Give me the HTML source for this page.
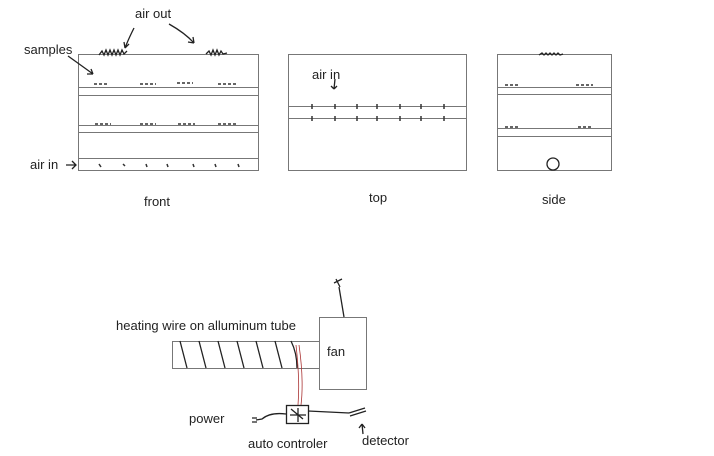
<!DOCTYPE html>
<html><head><style>
html,body{margin:0;padding:0;background:#fff;}
svg{display:block;}
text{font-family:"Liberation Sans",sans-serif;fill:#222;}
</style></head><body>
<svg width="714" height="456" viewBox="0 0 714 456" xmlns="http://www.w3.org/2000/svg">
<g stroke="#777" stroke-width="1" fill="none">
<rect x="78.5" y="54.5" width="180" height="116"/>
<line x1="78" y1="87.5" x2="258" y2="87.5"/><line x1="78" y1="95.5" x2="258" y2="95.5"/>
<line x1="78" y1="125.5" x2="258" y2="125.5"/><line x1="78" y1="132.5" x2="258" y2="132.5"/>
<line x1="78" y1="158.5" x2="258" y2="158.5"/>
<rect x="288.5" y="54.5" width="178" height="116"/>
<line x1="288" y1="106.5" x2="466" y2="106.5"/><line x1="288" y1="118.5" x2="466" y2="118.5"/>
<rect x="497.5" y="54.5" width="114" height="116"/>
<line x1="497" y1="87.5" x2="611" y2="87.5"/><line x1="497" y1="94.5" x2="611" y2="94.5"/>
<line x1="497" y1="128.5" x2="611" y2="128.5"/><line x1="497" y1="136.5" x2="611" y2="136.5"/>
<rect x="172.5" y="341.5" width="147" height="27"/>
<rect x="319.5" y="317.5" width="47" height="72"/>
</g>
<g stroke="#333" stroke-width="1.5" stroke-dasharray="3,2">
<line x1="94" y1="84" x2="108" y2="84"/><line x1="140" y1="84" x2="156" y2="84"/><line x1="177" y1="83" x2="193" y2="83"/><line x1="218" y1="84" x2="236" y2="84"/>
<line x1="95" y1="124" x2="111" y2="124"/><line x1="140" y1="124" x2="156" y2="124"/><line x1="178" y1="124" x2="195" y2="124"/><line x1="218" y1="124" x2="237" y2="124"/>
<line x1="505" y1="85" x2="520" y2="85"/><line x1="576" y1="85" x2="593" y2="85"/>
<line x1="505" y1="127" x2="520" y2="127"/><line x1="578" y1="127" x2="593" y2="127"/>
</g>
<g stroke="#222" stroke-width="1.3" fill="none">
<path d="M99 55 l3-4 2 4 2-5 2 5 2-5 2 5 2-5 2 5 2-5 2 5 2-5 2 4 3-3"/>
<path d="M206 54 l3-3 2 4 2-5 2 5 2-5 2 5 2-4 2 3 4-1"/>
<path d="M539 55 l3-2 2 2 2-2 2 2 2-2 2 2 2-2 2 2 2-2 2 2 3-1"/>
<path d="M134 28 Q128 40 125 48 M125 48 l-1-6 M125 48 l4-4"/>
<path d="M169 24 Q185 33 194 43 M194 43 l-6-1 M194 43 l-1-6"/>
<path d="M68 56 Q82 66 93 74 M93 74 l-6 0 M93 74 l-2-5"/>
<path d="M66 165 h10 M72 161 l4 4 -4 4"/>
<path d="M335 79 l-1 10 M334 89 l-3-3 M334 89 l3-3"/>
<circle cx="553" cy="164" r="6"/>
<path d="M180 341 l7 27 M199 341 l7 27 M218 341 l7 27 M237 341 l7 27 M256 341 l7 27 M275 341 l7 27 M291 341 q6 12 6 27"/>
<path d="M339 287 L344 317 M334 283 l8 -4 M336 279 l4 8"/>
<rect x="286.5" y="405.5" width="22" height="18"/>
<path d="M291 409 l12 10 M298 408 v14 M290 415 h16"/>
<path d="M286 414 Q270 412 262 419 L256 420 M252 418 h5 M252 422 h5"/>
<path d="M308 411 Q330 412 349 413"/>
<path d="M349 413 l16-5 M350 416 l16-5"/>
<path d="M363 434 l-1-10 M362 424 l-3 4 M362 424 l3 4"/>
</g>
<g stroke="#a33" stroke-width="0.8" fill="none"><path d="M296 345 Q300 380 298 405 M299 345 Q304 380 301 405"/></g>
<g stroke="#333" stroke-width="1.5">
<line x1="99" y1="164" x2="101" y2="167"/><line x1="123" y1="164" x2="125" y2="166"/><line x1="146" y1="164" x2="147" y2="167"/><line x1="167" y1="164" x2="168" y2="167"/><line x1="193" y1="164" x2="194" y2="167"/><line x1="215" y1="164" x2="216" y2="167"/><line x1="238" y1="164" x2="239" y2="167"/>
<line x1="312" y1="104" x2="312" y2="109"/><line x1="335" y1="104" x2="335" y2="109"/><line x1="357" y1="104" x2="357" y2="109"/><line x1="377" y1="104" x2="377" y2="109"/><line x1="400" y1="104" x2="400" y2="109"/><line x1="421" y1="104" x2="421" y2="109"/><line x1="444" y1="104" x2="444" y2="109"/>
<line x1="312" y1="116" x2="312" y2="121"/><line x1="335" y1="116" x2="335" y2="121"/><line x1="357" y1="116" x2="357" y2="121"/><line x1="377" y1="116" x2="377" y2="121"/><line x1="400" y1="116" x2="400" y2="121"/><line x1="421" y1="116" x2="421" y2="121"/><line x1="444" y1="116" x2="444" y2="121"/>
</g>
<g font-size="13">
<text x="135" y="18">air out</text>
<text x="24" y="54">samples</text>
<text x="30" y="169">air in</text>
<text x="312" y="79">air in</text>
<text x="144" y="206">front</text>
<text x="369" y="202">top</text>
<text x="542" y="204">side</text>
<text x="116" y="330">heating wire on alluminum tube</text>
<text x="327" y="356">fan</text>
<text x="189" y="423">power</text>
<text x="248" y="448">auto controler</text>
<text x="362" y="445">detector</text>
</g>
</svg>
</body></html>
